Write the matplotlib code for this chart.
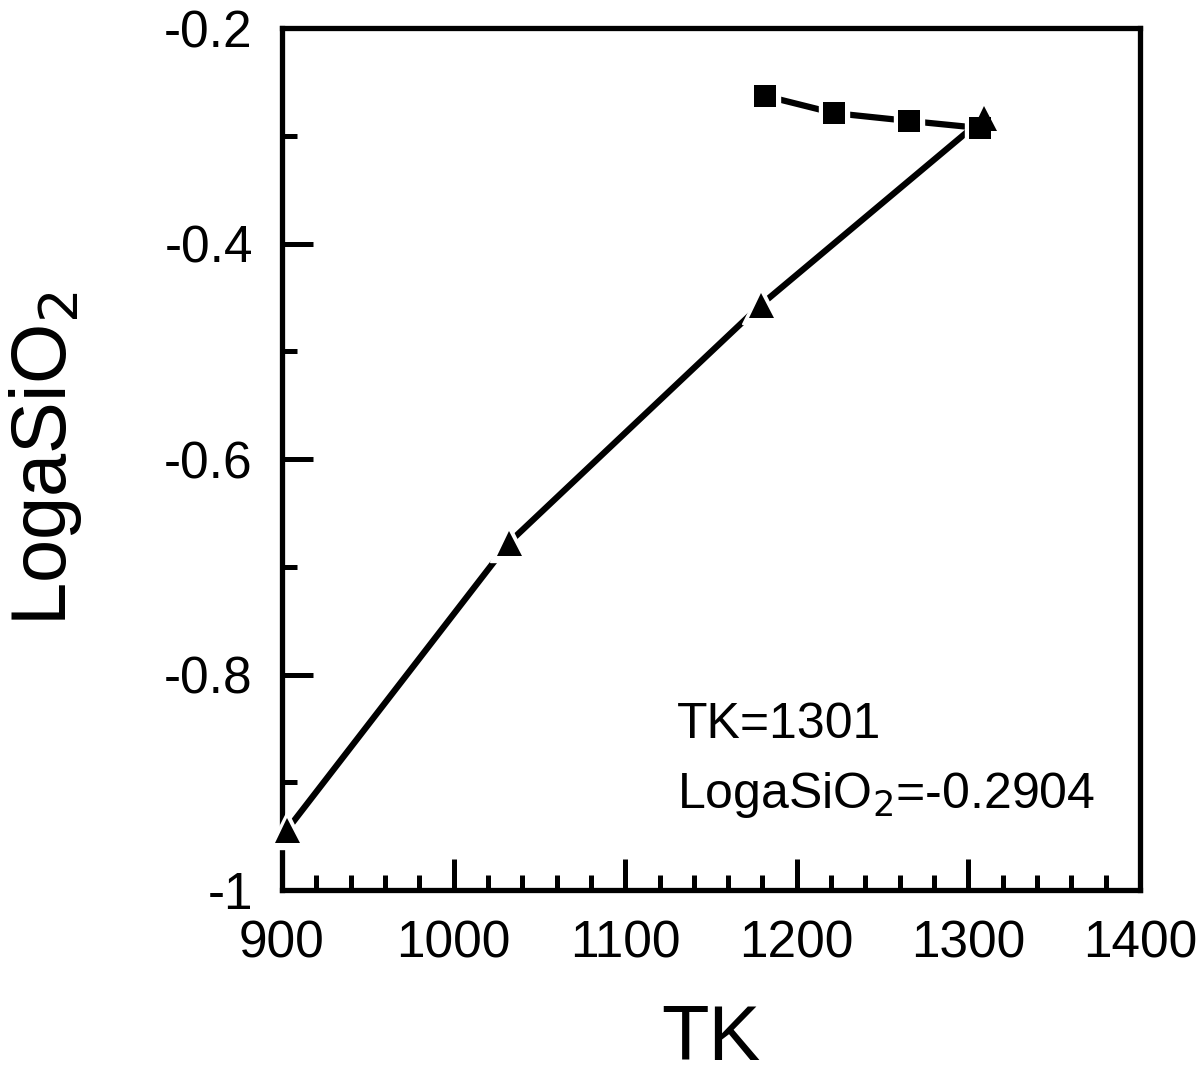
import matplotlib.pyplot as plt
import numpy as np

plt.rcParams['font.family'] = ['Liberation Sans', 'DejaVu Sans']

# triangle series
tk_tri = [903, 1032, 1179, 1309]
loga_tri = [-0.944, -0.678, -0.457, -0.2835]

# square series
tk_sq = [1181.5, 1221.7, 1265.6, 1306.8]
loga_sq = [-0.263, -0.279, -0.2863, -0.2928]

fig = plt.figure(figsize=(12, 10.78), dpi=100)
ax = fig.add_axes([282/1200, 1 - 890/1078, (1140-282)/1200, (890-28)/1078])

# lines first, then white halo behind markers so the line stops short of each mark
ax.plot(tk_tri, loga_tri, color='black', lw=4.5, zorder=2)
ax.plot(tk_sq, loga_sq, color='black', lw=4.5, zorder=2)
ax.plot(tk_tri, loga_tri, ls='none', marker='^', ms=27, mfc='white', mec='white',
        clip_on=False, zorder=3)
ax.plot(tk_sq, loga_sq, ls='none', marker='s', ms=22, mfc='white', mec='white',
        clip_on=False, zorder=3)
ax.plot(tk_sq, loga_sq, ls='none', marker='s', ms=16, mfc='black', mec='black',
        mew=0, clip_on=False, zorder=4)
ax.plot(tk_tri, loga_tri, ls='none', marker='^', ms=18, mfc='black', mec='black',
        mew=0, clip_on=False, zorder=4)

ax.text(1130, -0.859, 'TK=1301', fontsize=36, ha='left', va='baseline')
ax.text(1130, -0.924, 'LogaSiO$_2$=-0.2904', fontsize=36, ha='left', va='baseline')

ax.set_xlim(900, 1400)
ax.set_ylim(-1, -0.2)
ax.set_xticks(np.arange(900, 1401, 100))
ax.set_xticks(np.arange(900, 1401, 20), minor=True)
ax.set_yticks(np.arange(-1, -0.19, 0.2))
ax.set_yticks(np.arange(-1, -0.19, 0.1), minor=True)
ax.set_yticklabels(['-1', '-0.8', '-0.6', '-0.4', '-0.2'])
ax.set_xticklabels([str(v) for v in range(900, 1401, 100)])

ax.tick_params(which='major', direction='in', length=22, width=3.6, labelsize=37, pad=21)
ax.tick_params(which='minor', direction='in', length=11, width=3.6)
ax.tick_params(which='both', top=False, right=False)
for s in ax.spines.values():
    s.set_linewidth(3.8)

ax.set_xlabel('TK', fontsize=56, labelpad=25)
ax.set_ylabel('LogaSiO$_2$', fontsize=56, labelpad=58)

fig.savefig('out.png', dpi=100)
